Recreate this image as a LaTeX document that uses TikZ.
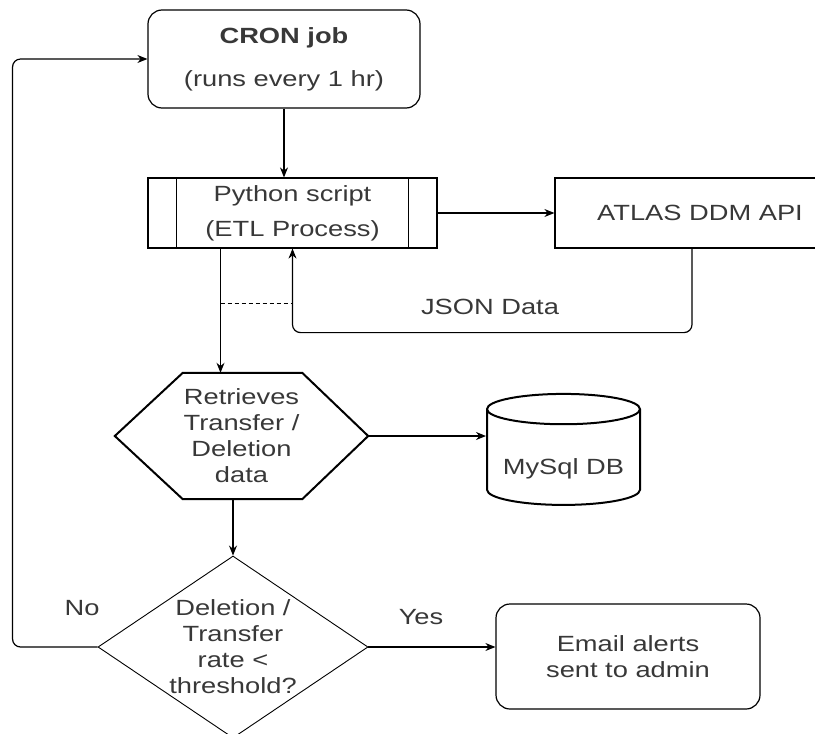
\documentclass[tikz,border=0pt]{standalone}
\usepackage{fontspec}
\setmainfont{Liberation Sans}[FakeStretch=1.24]
\usepackage{tikz}
\usetikzlibrary{arrows.meta, calc, positioning, shapes.geometric}
\definecolor{textgray}{rgb}{0.22, 0.22, 0.22}

\begin{document}
\begin{tikzpicture}[x=1pt, y=-1pt,
		every node/.style={font=\fontsize{22}{26}\selectfont, text=textgray, align=center, inner sep=0pt},
		box/.style={draw, line width=1.2pt, minimum width=#1},
		roundbox/.style={box=#1, rounded corners=14pt},
		arr/.style={line width=1.2pt, -{Stealth[length=10pt, width=8pt]}},
		dashline/.style={line width=1pt, dash pattern=on 4pt off 3pt}]
		\useasboundingbox (0,0) rectangle (815,734);
		% boxes
		\node[roundbox=272pt, minimum height=98pt] (cron) at (284,59) {\textbf{CRON job}\\[17pt](runs every 1 hr)};
		\node[box=289pt, minimum height=70pt] (python) at (292.5,213) {Python script\\[9pt](ETL Process)};
		\draw [line width=1.2pt] ([xshift=29pt]python.north west)--([xshift=29pt]python.south west);
		\draw [line width=1.2pt] ([xshift=-29pt]python.north east)--([xshift=-29pt]python.south east);
		\node[box=290pt, minimum height=70pt] (atlas) at (700,213) {ATLAS DDM API};
		\node[minimum width=253pt, minimum height=126pt] (retr) at (241.5,436) {Retrieves\\Transfer /\\Deletion\\data};
		\draw [line width=2pt, line join=miter] (retr.west)--($(retr.north west)+(68,0)$)--($(retr.north east)+(-66,0)$)
			--(retr.east)--($(retr.south east)+(-66,0)$)--($(retr.south west)+(68,0)$)--cycle;
		\node[draw, line width=2pt, shape=cylinder, shape border rotate=90, aspect=0.25,
			minimum width=153pt, minimum height=111pt] (db) at (563.5,457.5) {\raisebox{-17pt}[0pt][0pt]{MySql DB}};
		\node[draw, line width=0.9pt, shape=diamond, minimum width=270pt, minimum height=182pt,
			label={[align=center]center:Deletion /\\Transfer\\rate <\\threshold?}] (dec) at (233,647) {};
		\node[roundbox=264pt, minimum height=105pt] (email) at (628,656.5) {Email alerts\\sent to admin};
		% connectors
		\draw [arr] (cron.south)--(cron.south |- python.north);
		\draw [arr] (python.east)--(atlas.west);
		\draw [arr, rounded corners=8pt] ([xshift=-8pt]atlas.south)--++(0,84) -| (python.south);
		\node (json) at (490,307) {JSON Data};
		\draw [arr] ([xshift=-72pt]python.south)--([xshift=-72pt]python.south |- retr.north);
		\draw [dashline] ([xshift=-72pt, yshift=-55pt]python.south)--([yshift=-55pt]python.south);
		\draw [arr] (retr.east)--(retr.east -| db.west);
		\draw [arr] (dec.north |- retr.south)--(dec.north);
		\draw [arr] (dec.east)--(dec.east -| email.west);
		\node (yes) at (421,617) {Yes};
		\draw [arr, rounded corners=8pt] (dec.west)--++(-85,0) |- (cron.west);
		\node (no) at (82,608) {No};
	\end{tikzpicture}
\end{document}
